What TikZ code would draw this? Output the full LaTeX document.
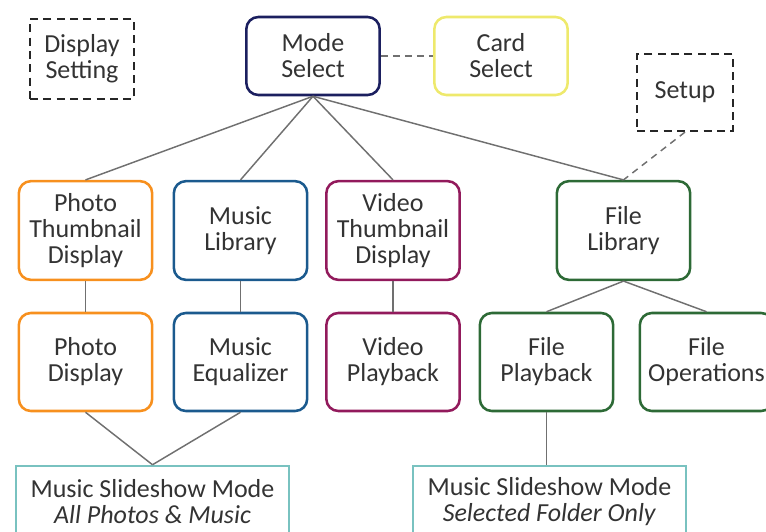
\documentclass[tikz,border=0pt]{standalone}
\usepackage{fontspec}
\setmainfont{Carlito}
\definecolor{textgray}{RGB}{51,51,51}
\definecolor{linegray}{RGB}{112,112,112}
\definecolor{modenavy}{RGB}{27,31,95}
\definecolor{cardyellow}{RGB}{238,233,108}
\definecolor{photoorange}{RGB}{247,144,30}
\definecolor{musicblue}{RGB}{27,90,142}
\definecolor{videopurple}{RGB}{146,26,92}
\definecolor{filegreen}{RGB}{45,106,54}
\definecolor{slideteal}{RGB}{121,194,192}
\begin{document}
\begin{tikzpicture}[x=0.75pt,y=0.75pt,
    font=\fontsize{19.5}{19.5}\selectfont, text=textgray,
    modebox/.style={draw, rounded corners=9pt, line width=1.9pt, align=center,
      inner sep=0pt, minimum width=100pt, minimum height=73.5pt},
    topbox/.style={modebox, minimum height=58.5pt},
    optbox/.style={draw=black!85, line width=1.9pt, dash pattern=on 6pt off 4pt,
      align=center, inner sep=0pt},
    slidebox/.style={draw=slideteal, line width=1.9pt, align=center, inner sep=0pt,
      minimum width=204.5pt, minimum height=54pt},
    link/.style={draw=linegray, line width=1.1pt},
    optlink/.style={link, dash pattern=on 5pt off 4pt}]
\useasboundingbox (0,0) rectangle (766,-531);

% Top row
\node[optbox, minimum width=78pt, minimum height=60pt] (dispset) at (82,-59) {Display\\Setting};
\node[topbox, draw=modenavy] (mode) at (313,-56) {Mode\\Select};
\node[topbox, draw=cardyellow] (card) at (501,-56) {Card\\Select};
\node[optbox, minimum width=72pt, minimum height=57.5pt] (setup) at (685,-92.5) {Setup};

% Mode screens
\node[modebox, draw=photoorange, minimum height=74pt] (photothumb) at (85.5,-230.5) {Photo\\Thumbnail\\Display};
\node[modebox, draw=musicblue, minimum height=74pt] (musiclib) at (240.5,-230.5) {Music\\Library};
\node[modebox, draw=videopurple, minimum height=74pt] (videothumb) at (393,-230.5) {Video\\Thumbnail\\Display};
\node[modebox, draw=filegreen, minimum height=74pt] (filelib) at (623.5,-230.5) {File\\Library};

% Sub screens
\node[modebox, draw=photoorange] (photodisp) at (85.5,-362) {Photo\\Display};
\node[modebox, draw=musicblue] (musiceq) at (240.5,-362) {Music\\Equalizer};
\node[modebox, draw=videopurple] (videoplay) at (393,-362) {Video\\Playback};
\node[modebox, draw=filegreen] (fileplay) at (546.5,-362) {File\\Playback};
\node[modebox, draw=filegreen] (fileops) at (706.5,-362) {File\\Operations};

% Slideshow modes
\node[slidebox] (slideall) at (152.5,-502) {Music Slideshow Mode\\\textit{All Photos \& Music}};
\node[slidebox] (slidefolder) at (549.5,-502) {Music Slideshow Mode\\\textit{Selected Folder Only}};

% Connectors
\foreach \n in {photothumb,musiclib,videothumb,filelib}
  \path[link] (mode.south) -- (\n.north);
\path[link] (photothumb) -- (photodisp);
\path[link] (musiclib) -- (musiceq);
\path[link] (videothumb) -- (videoplay);
\path[link] (filelib.south) -- (fileplay.north);
\path[link] (filelib.south) -- (fileops.north);
\path[link] (photodisp.south) -- (slideall.north);
\path[link] (musiceq.south) -- (slideall.north);
\path[link] (fileplay.south) -- (fileplay.south |- slidefolder.north);
\path[optlink] (mode) -- (card);
\path[optlink] (setup.south) -- (filelib.north);
\end{tikzpicture}
\end{document}
